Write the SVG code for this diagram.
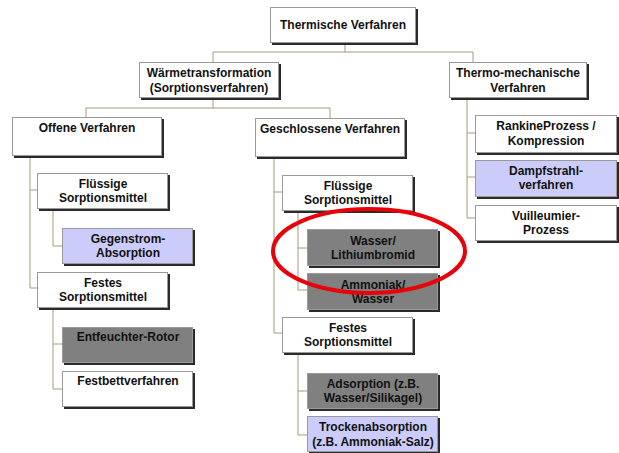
<svg xmlns="http://www.w3.org/2000/svg" width="619" height="453" viewBox="0 0 619 453">
<style>
.sh{fill:#2a2a2a}
.b{stroke:#9a9a9a;stroke-width:1}
.w{fill:#ffffff}
.l{fill:#ccccfa}
.d{fill:#808080}
text{font-family:"Liberation Sans",Arial,sans-serif;font-weight:bold;font-size:12px;fill:#111;text-anchor:middle}
.c{fill:none;stroke:#a89a78;stroke-width:1}
</style>
<rect width="619" height="453" fill="#ffffff"/>
<g id="connectors" class="c">
<path d="M345,43V52M213,52H473M213,52V62M473,52V62"/>
<path d="M213,98V108M86,108H330M86,108V117M330,108V118"/>
<path d="M30,156V288H37M30,190H37"/>
<path d="M53,209V246H62"/>
<path d="M53,308V389H62M53,344H62"/>
<path d="M274,157V333H282M274,192H282"/>
<path d="M298,211V290H307M298,248H307"/>
<path d="M298,353V435H307M298,391H307"/>
<path d="M467,98V218H475M467,133H475M467,177H475"/>
</g>
<g id="n-thermische"><rect class="sh" x="272" y="9" width="146" height="36"/><rect class="b w" x="270.5" y="7.5" width="145" height="35"/><text x="343" y="29">Thermische Verfahren</text></g>
<g id="n-waerme"><rect class="sh" x="141" y="64" width="140" height="36"/><rect class="b w" x="139.5" y="62.5" width="139" height="35"/><text x="209" y="77">Wärmetransformation</text><text x="209" y="92">(Sorptionsverfahren)</text></g>
<g id="n-thermomech"><rect class="sh" x="451" y="64" width="138" height="36"/><rect class="b w" x="449.5" y="62.5" width="137" height="35"/><text x="518" y="77">Thermo-mechanische</text><text x="518" y="92">Verfahren</text></g>
<g id="n-offene"><rect class="sh" x="14" y="119" width="150" height="39"/><rect class="b w" x="12.5" y="117.5" width="149" height="38"/><text x="87" y="132">Offene Verfahren</text></g>
<g id="n-geschlossene"><rect class="sh" x="257" y="120" width="150" height="39"/><rect class="b w" x="255.5" y="118.5" width="149" height="38"/><text x="330" y="133">Geschlossene Verfahren</text></g>
<g id="n-fluessig-l"><rect class="sh" x="39" y="175" width="131" height="36"/><rect class="b w" x="37.5" y="173.5" width="130" height="35"/><text x="103" y="188">Flüssige</text><text x="103" y="202">Sorptionsmittel</text></g>
<g id="n-gegenstrom"><rect class="sh" x="64" y="230" width="131" height="36"/><rect class="b l" x="62.5" y="228.5" width="130" height="35"/><text x="128" y="243">Gegenstrom-</text><text x="128" y="257">Absorption</text></g>
<g id="n-festes-l"><rect class="sh" x="39" y="274" width="131" height="36"/><rect class="b w" x="37.5" y="272.5" width="130" height="35"/><text x="103" y="287">Festes</text><text x="103" y="301">Sorptionsmittel</text></g>
<g id="n-entfeuchter"><rect class="sh" x="64" y="329" width="131" height="36"/><rect class="b d" x="62.5" y="327.5" width="130" height="35"/><text x="128" y="341">Entfeuchter-Rotor</text></g>
<g id="n-festbett"><rect class="sh" x="64" y="373" width="131" height="36"/><rect class="b w" x="62.5" y="371.5" width="130" height="35"/><text x="128" y="385">Festbettverfahren</text></g>
<g id="n-fluessig-m"><rect class="sh" x="284" y="177" width="131" height="36"/><rect class="b w" x="282.5" y="175.5" width="130" height="35"/><text x="348" y="190">Flüssige</text><text x="348" y="204">Sorptionsmittel</text></g>
<g id="n-lithium"><rect class="sh" x="309" y="231" width="131" height="37"/><rect class="b d" x="307.5" y="229.5" width="130" height="36"/><text x="373" y="245">Wasser/</text><text x="373" y="259">Lithiumbromid</text></g>
<g id="n-ammoniak"><rect class="sh" x="309" y="275" width="131" height="37"/><rect class="b d" x="307.5" y="273.5" width="130" height="36"/><text x="373" y="289">Ammoniak/</text><text x="373" y="303">Wasser</text></g>
<g id="n-festes-m"><rect class="sh" x="284" y="319" width="131" height="36"/><rect class="b w" x="282.5" y="317.5" width="130" height="35"/><text x="348" y="332">Festes</text><text x="348" y="346">Sorptionsmittel</text></g>
<g id="n-adsorption"><rect class="sh" x="309" y="375" width="131" height="36"/><rect class="b d" x="307.5" y="373.5" width="130" height="35"/><text x="373" y="388">Adsorption (z.B.</text><text x="373" y="402">Wasser/Silikagel)</text></g>
<g id="n-trocken"><rect class="sh" x="309" y="418" width="131" height="36"/><rect class="b l" x="307.5" y="416.5" width="130" height="35"/><text x="373" y="431">Trockenabsorption</text><text x="373" y="446">(z.B. Ammoniak-Salz)</text></g>
<g id="n-rankine"><rect class="sh" x="477" y="117" width="142" height="38"/><rect class="b w" x="475.5" y="115.5" width="141" height="37"/><text x="546" y="130">RankineProzess /</text><text x="546" y="145">Kompression</text></g>
<g id="n-dampf"><rect class="sh" x="477" y="162" width="142" height="37"/><rect class="b l" x="475.5" y="160.5" width="141" height="36"/><text x="546" y="175">Dampfstrahl-</text><text x="546" y="189">verfahren</text></g>
<g id="n-vuilleumier"><rect class="sh" x="477" y="207" width="142" height="36"/><rect class="b w" x="475.5" y="205.5" width="141" height="35"/><text x="546" y="220">Vuilleumier-</text><text x="546" y="234">Prozess</text></g>
<ellipse id="highlight" cx="369" cy="251" rx="96" ry="42" fill="none" stroke="#e8000a" stroke-width="4"/>
</svg>
